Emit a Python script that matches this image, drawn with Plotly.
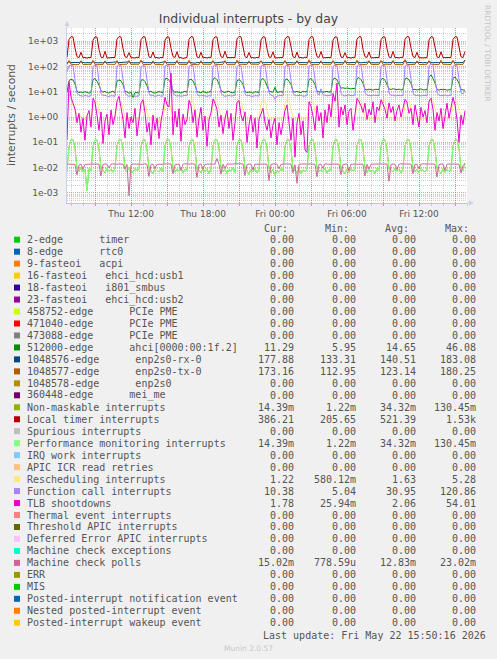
import plotly.graph_objects as go
import pandas as pd

# ---------------- data (10-minute steps) ----------------
start_time = "2026-05-21 06:40"
end_time = "2026-05-22 16:00"
n_points = 200

local_timer = [
    225,
    1150, 1480, 1450, 520, 240, 222, 360, 218, 225, 212, 228, 221,
    1080, 1460, 1430, 470, 232, 219, 390, 214, 222, 216, 224, 226,
    1200, 1500, 1440, 500, 238, 225, 350, 220, 218, 214, 230, 222,
    1120, 1470, 1460, 480, 236, 221, 370, 216, 224, 211, 226, 219,
    1090, 1450, 1420, 510, 242, 224, 380, 219, 221, 205.65, 223, 225,
    1170, 1490, 1450, 490, 235, 218, 360, 215, 226, 213, 229, 220,
    1130, 1460, 1440, 470, 239, 223, 395, 221, 219, 217, 225, 223,
    1210, 1530, 1470, 520, 241, 220, 355, 217, 223, 212, 227, 221,
    1100, 1470, 1430, 500, 234, 226, 375, 214, 220, 216, 224, 227,
    1160, 1480, 1460, 480, 237, 219, 365, 218, 225, 213, 230, 222,
    1140, 1500, 1450, 510, 240, 224, 385, 216, 221, 215, 226, 220,
    1080, 1460, 1420, 490, 233, 221, 350, 220, 224, 211, 228, 224,
    1190, 1490, 1470, 470, 238, 225, 370, 215, 222, 217, 225, 221,
    1120, 1470, 1440, 500, 236, 218, 390, 219, 226, 214, 229, 223,
    1170, 1510, 1460, 520, 242, 223, 360, 217, 220, 216, 224, 219,
    1100, 1480, 1430, 480, 235, 220, 375, 221, 223, 212, 227, 225,
    1150, 1490, 1450, 500, 239, 222, 386.21,
]

enp2s0_rx = [
    140,
    152, 141, 139, 138, 140, 142, 149, 139, 137, 141, 140, 138,
    155, 140, 138, 141, 139, 137, 147, 140, 142, 138, 139, 141,
    150, 139, 141, 137, 140, 139, 151, 138, 140, 142, 137, 139,
    158, 142, 138, 140, 141, 138, 146, 141, 139, 137, 140, 142,
    153, 140, 137, 139, 138, 141, 150, 139, 141, 140, 138, 137,
    149, 141, 140, 133.31, 142, 139, 148, 137, 140, 141, 139, 140,
    156, 139, 138, 141, 137, 140, 152, 140, 138, 139, 142, 138,
    151, 142, 141, 139, 140, 138, 147, 141, 137, 140, 139, 141,
    160, 140, 139, 137, 141, 142, 149, 138, 140, 138, 141, 139,
    154, 138, 140, 142, 139, 137, 150, 140, 141, 139, 138, 140,
    152, 141, 139, 140, 138, 141, 146, 139, 142, 140, 137, 139,
    157, 139, 141, 138, 140, 139, 151, 141, 138, 141, 140, 142,
    150, 140, 138, 141, 142, 140, 148, 138, 140, 137, 141, 139,
    155, 142, 140, 139, 137, 141, 153, 140, 139, 142, 138, 140,
    183.08, 139, 141, 140, 139, 138, 147, 141, 140, 138, 142, 137,
    151, 140, 138, 142, 141, 139, 150, 139, 141, 140, 139, 141,
    156, 141, 139, 140, 138, 142, 177.88,
]

enp2s0_tx = [
    118,
    172, 121, 117, 119, 116, 120, 168, 118, 115, 119, 121, 117,
    175, 119, 116, 120, 118, 117, 165, 121, 118, 116, 120, 119,
    170, 118, 121, 117, 119, 122, 171, 117, 120, 118, 116, 121,
    177, 120, 118, 116, 121, 119, 166, 119, 117, 121, 118, 112.95,
    169, 117, 120, 119, 117, 118, 173, 120, 119, 117, 121, 118,
    174, 121, 119, 118, 120, 116, 167, 118, 121, 119, 117, 120,
    171, 118, 117, 121, 119, 120, 170, 117, 118, 120, 119, 117,
    176, 120, 121, 117, 118, 119, 164, 121, 119, 116, 120, 121,
    168, 119, 118, 120, 121, 117, 172, 119, 117, 121, 118, 119,
    173, 117, 120, 118, 116, 121, 169, 120, 118, 119, 121, 117,
    180.25, 121, 117, 119, 120, 118, 166, 117, 121, 118, 116, 120,
    170, 118, 119, 121, 117, 120, 174, 119, 120, 117, 119, 118,
    175, 120, 116, 118, 119, 121, 168, 121, 118, 120, 117, 119,
    172, 119, 121, 117, 120, 118, 171, 118, 119, 121, 120, 116,
    178, 117, 118, 120, 121, 119, 165, 120, 117, 118, 119, 121,
    169, 121, 120, 119, 118, 117, 173, 119, 121, 120, 118, 117,
    174, 118, 121, 117, 119, 120, 173.16,
]

ahci = [
    9.5,
    27, 31, 29, 20, 10.5, 9.2, 9.8, 8.9, 10.1, 9.4, 8.7, 9.6,
    30, 33, 26, 18, 11, 9.6, 10.3, 9.1, 8.8, 9.9, 10.4, 9.0,
    26, 29, 27, 19, 10.2, 9.8, 8.6, 9.7, 5.95, 9.3, 9.1, 8.9,
    28, 30, 25, 17, 9.8, 10.4, 9.2, 8.7, 9.5, 10.1, 9.6, 9.2,
    32, 34, 28, 21, 10.8, 9.3, 10.0, 9.4, 8.8, 9.7, 10.3, 9.5,
    29, 31, 27, 18, 10.1, 9.5, 9.0, 10.2, 9.6, 8.9, 9.8, 10.0,
    31, 36, 30, 20, 11.2, 9.7, 9.4, 9.9, 10.5, 9.2, 9.0, 9.6,
    27, 30, 26, 19, 10.4, 9.1, 9.8, 9.3, 8.7, 10.0, 9.5, 9.3,
    30, 33, 27, 18, 10.6, 9.9, 9.5, 15, 9.2, 9.8, 10.1, 9.4,
    29, 32, 26, 19, 10.3, 9.6, 10.2, 9.7, 9.1, 10.5, 9.8, 10.2,
    30, 33, 27, 19, 10.4, 9.7, 10.1, 9.5, 9.9, 10.3, 9.6, 10.0,
    31, 35, 29, 21, 13.8, 14.2, 13.5, 14.0, 13.2, 12.8, 13.6, 12.9,
    33, 36, 30, 21, 12.3, 11.8, 12.6, 12.1, 11.5, 12.4, 11.9, 12.2,
    30, 34, 28, 20, 12.8, 12.2, 13.1, 12.5, 12.0, 12.7, 11.6, 12.3,
    32, 35, 29, 21, 11.9, 12.4, 11.7, 12.2, 12.9, 11.8, 12.3, 12.0,
    37, 46.08, 33, 22, 12.1, 11.6, 12.5, 11.9, 12.3, 11.4, 12.0, 11.7,
    34, 38, 30, 21, 12.2, 11.5, 11.29,
]

function_call = [
    60,
    105, 112, 108, 28, 8.8, 7.2, 6.9, 6.6, 7.1, 6.8, 6.5, 7.0,
    98, 110, 104, 25, 8.5, 6.9, 7.3, 6.7, 6.4, 7.0, 6.8, 6.6,
    102, 115, 106, 31, 9.1, 7.0, 6.6, 6.9, 7.2, 6.5, 6.7, 6.8,
    96, 108, 103, 26, 8.7, 6.8, 7.1, 6.5, 6.9, 7.3, 6.6, 6.7,
    104, 113, 109, 29, 9.3, 7.1, 6.7, 7.0, 6.6, 6.8, 7.2, 6.9,
    99, 111, 105, 27, 8.6, 6.7, 6.9, 7.2, 6.8, 6.5, 7.0, 6.6,
    101, 114, 107, 30, 8.9, 7.0, 6.6, 6.8, 7.1, 6.7, 6.9, 7.1,
    97, 109, 104, 26, 8.4, 6.8, 7.2, 6.6, 6.5, 7.0, 6.8, 6.7,
    103, 112, 108, 28, 9.0, 7.1, 6.9, 5.04, 6.7, 6.9, 7.1, 6.8,
    100, 110, 106, 27, 8.8, 6.9, 7.0, 6.7, 7.2, 6.6, 6.8, 7.0,
    102, 113, 107, 29, 9.2, 7.3, 13, 7.6, 7.0, 6.8, 7.2, 7.1,
    98, 111, 105, 27, 8.7, 7.0, 6.8, 7.2, 7.5, 6.9, 7.1, 7.4,
    104, 116, 109, 30, 9.4, 7.2, 7.0, 6.9, 7.3, 7.1, 6.8, 7.0,
    99, 110, 106, 28, 8.9, 7.1, 7.4, 6.8, 7.0, 7.2, 6.9, 7.1,
    101, 114, 108, 29, 9.1, 6.9, 7.1, 7.3, 6.8, 7.0, 7.2, 6.9,
    105, 120.86, 110, 31, 9.5, 7.2, 6.9, 7.1, 7.4, 6.8, 7.0, 7.3,
    100, 112, 106, 28, 9.0, 8.2, 10.38,
]

tlb_shootdowns = [
    0.12,
    25, 6.0, 3.2, 2.1, 0.6, 1.4, 0.25, 0.9, 0.12, 1.1, 1.8, 0.4,
    5.5, 3.8, 1.2, 0.3, 1.6, 0.09, 0.7, 1.3, 0.2, 1.9, 0.5, 1.1,
    4.2, 6.5, 2.4, 0.8, 0.15, 1.5, 0.35, 1.0, 0.6, 2.2, 0.18, 0.9,
    3.6, 4.8, 1.5, 0.25, 0.6, 0.08, 1.2, 0.3, 0.9, 0.14, 0.7, 1.8,
    6.0, 3.0, 2.5, 54.01, 0.2, 1.7, 0.4, 2.1, 0.11, 1.3, 0.5, 0.8,
    4.5, 2.8, 0.6, 1.9, 0.16, 0.9, 2.4, 0.3, 1.1, 0.07, 0.8, 1.5,
    5.2, 3.5, 2.0, 0.4, 1.2, 0.22, 0.9, 1.8, 0.35, 1.4, 0.12, 0.6,
    3.8, 4.5, 1.2, 0.7, 1.6, 0.1, 0.5, 1.2, 0.25, 0.9, 0.06, 0.8,
    1.5, 2.2, 0.6, 0.3, 0.8, 0.15, 0.5, 0.9, 0.08, 0.6, 0.2, 0.7,
    1.8, 3.0, 0.5, 0.12, 0.9, 0.026, 0.6, 1.4, 0.2, 0.7, 0.05, 0.04,
    4.0, 2.6, 1.1, 0.3, 2.8, 0.7, 1.5, 0.15, 1.9, 0.6, 3.2, 1.0,
    8.5, 4.2, 22, 0.4, 2.5, 1.2, 3.0, 0.5, 1.7, 2.2, 0.3, 1.4,
    5.5, 4.0, 2.8, 1.5, 3.5, 0.8, 2.0, 1.2, 4.0, 0.6, 2.5, 1.8,
    4.8, 3.2, 2.0, 0.9, 3.6, 1.5, 2.6, 0.7, 1.8, 3.0, 1.0, 2.2,
    5.0, 3.8, 1.4, 2.2, 0.5, 3.0, 1.2, 0.4, 2.4, 1.0, 1.8, 0.6,
    4.2, 5.5, 2.0, 0.3, 1.5, 0.7, 2.2, 0.35, 1.1, 3.5, 0.9, 2.0,
    6.0, 3.0, 0.8, 0.1, 1.2, 0.5, 1.78,
]

rescheduling = [
    1.8,
    2.5, 3.4, 3.0, 1.9, 1.2, 0.95, 1.1, 0.9, 0.85, 1.0, 0.92, 0.88,
    3.1, 4.3, 4.0, 1.6, 0.95, 0.9, 0.88, 0.93, 0.9, 0.86, 0.91, 0.89,
    3.3, 4.5, 4.2, 1.7, 0.96, 0.91, 0.87, 0.9, 0.92, 0.88, 0.9, 0.93,
    3.0, 4.1, 3.9, 1.5, 0.93, 0.89, 0.9, 0.86, 0.91, 0.5801, 0.88, 0.9,
    2.9, 4.4, 4.1, 1.8, 0.97, 0.9, 0.88, 0.92, 0.9, 0.87, 0.91, 0.89,
    3.2, 4.6, 4.3, 1.6, 0.94, 0.92, 0.89, 0.9, 0.88, 0.91, 0.9, 0.86,
    3.4, 4.8, 4.5, 1.9, 0.98, 0.9, 0.91, 0.88, 0.9, 0.93, 0.87, 0.9,
    3.1, 4.4, 4.2, 1.7, 0.95, 0.89, 0.9, 0.92, 0.86, 0.9, 0.91, 0.88,
    3.3, 4.7, 4.4, 1.8, 0.96, 0.91, 0.88, 0.9, 0.92, 0.89, 0.9, 0.91,
    3.5, 5.0, 4.6, 1.9, 0.97, 0.9, 0.92, 0.88, 0.91, 0.9, 0.87, 0.92,
    3.2, 4.5, 4.3, 1.7, 0.95, 0.92, 0.9, 0.91, 0.89, 0.93, 0.9, 0.88,
    3.6, 5.28, 4.8, 2.0, 0.98, 0.91, 0.9, 0.92, 0.88, 0.9, 0.91, 0.93,
    3.3, 4.6, 4.4, 1.8, 0.96, 0.9, 0.93, 0.89, 0.91, 0.9, 0.92, 0.88,
    3.4, 4.9, 4.5, 1.9, 0.97, 0.92, 0.9, 0.91, 0.89, 0.93, 0.9, 0.91,
    3.1, 4.4, 4.2, 1.7, 0.95, 0.9, 0.91, 0.88, 0.92, 0.9, 0.89, 0.92,
    3.5, 4.8, 4.6, 1.9, 0.98, 0.91, 0.93, 0.9, 0.88, 0.91, 0.92, 0.9,
    3.2, 4.5, 4.3, 1.8, 1.0, 0.95, 1.22,
]

perf_monitoring = [
    0.008,
    0.07, 0.125, 0.128, 0.06, 0.009, 0.0072, 0.0105, 0.0068, 0.0085, 0.00122, 0.009, 0.0075,
    0.065, 0.12, 0.124, 0.055, 0.0095, 0.0078, 0.0062, 0.0098, 0.0071, 0.0088, 0.0066, 0.0092,
    0.072, 0.126, 0.13, 0.058, 0.0088, 0.0069, 0.0101, 0.0075, 0.0064, 0.0093, 0.0079, 0.0085,
    0.068, 0.123, 0.127, 0.052, 0.0092, 0.0074, 0.0058, 0.0097, 0.0083, 0.0067, 0.0095, 0.0071,
    0.074, 0.128, 0.13045, 0.061, 0.0098, 0.0066, 0.0089, 0.0072, 0.0103, 0.0061, 0.0086, 0.0079,
    0.066, 0.121, 0.125, 0.054, 0.0087, 0.0081, 0.0063, 0.0094, 0.0069, 0.0091, 0.0057, 0.0088,
    0.071, 0.127, 0.129, 0.059, 0.0096, 0.0068, 0.0092, 0.0059, 0.0084, 0.0073, 0.0099, 0.0065,
    0.069, 0.122, 0.126, 0.056, 0.0089, 0.0077, 0.0054, 0.0086, 0.0068, 0.0095, 0.0062, 0.0081,
    0.073, 0.126, 0.128, 0.06, 0.0093, 0.0063, 0.0087, 0.0049, 0.0078, 0.0066, 0.0091, 0.0072,
    0.067, 0.124, 0.127, 0.055, 0.0085, 0.0079, 0.0061, 0.0093, 0.0056, 0.0082, 0.0069, 0.0088,
    0.07, 0.125, 0.129, 0.057, 0.0094, 0.0067, 0.0083, 0.0071, 0.0097, 0.006, 0.0085, 0.0074,
    0.068, 0.123, 0.126, 0.053, 0.009, 0.0073, 0.0058, 0.0088, 0.0065, 0.0092, 0.0076, 0.0083,
    0.072, 0.127, 0.13, 0.06, 0.0097, 0.0064, 0.009, 0.0069, 0.0081, 0.0057, 0.0094, 0.0078,
    0.066, 0.122, 0.125, 0.054, 0.0088, 0.0082, 0.0067, 0.0095, 0.0072, 0.0087, 0.0061, 0.0091,
    0.071, 0.126, 0.128, 0.058, 0.0095, 0.007, 0.0086, 0.0063, 0.0099, 0.0075, 0.0068, 0.0084,
    0.069, 0.124, 0.127, 0.056, 0.0091, 0.0076, 0.0059, 0.0092, 0.0066, 0.0089, 0.0073, 0.0082,
    0.07, 0.125, 0.128, 0.057, 0.0093, 0.0079, 0.01439,
]
non_maskable = perf_monitoring  # identical readings in the legend

machine_check_polls = [
    0.0138,
    0.0139, 0.0137, 0.0141, 0.0136, 0.0052, 0.0128, 0.0139, 0.0085, 0.0135, 0.014, 0.0137, 0.0138,
    0.014, 0.0138, 0.0136, 0.0139, 0.0047, 0.0131, 0.0142, 0.0137, 0.0098, 0.0138, 0.0141, 0.0136,
    0.0137, 0.0139, 0.0141, 0.0138, 0.0088, 0.0135, 0.00078, 0.0132, 0.0139, 0.0137, 0.014, 0.0138,
    0.0139, 0.0136, 0.0142, 0.0137, 0.0045, 0.0134, 0.0138, 0.0092, 0.0137, 0.0141, 0.0136, 0.0139,
    0.0141, 0.0138, 0.0137, 0.014, 0.0058, 0.0129, 0.0136, 0.0139, 0.0078, 0.0138, 0.0142, 0.0137,
    0.0138, 0.014, 0.0136, 0.0139, 0.0041, 0.0133, 0.0141, 0.0087, 0.0136, 0.0139, 0.0137, 0.014,
    0.0137, 0.0139, 0.0230, 0.0136, 0.0055, 0.0137, 0.0095, 0.0138, 0.014, 0.0136, 0.0139, 0.0141,
    0.014, 0.0137, 0.0138, 0.0141, 0.0049, 0.013, 0.0139, 0.0136, 0.0082, 0.0139, 0.0137, 0.0138,
    0.0139, 0.0141, 0.0136, 0.0138, 0.0031, 0.0134, 0.014, 0.0137, 0.0138, 0.0091, 0.0136, 0.0139,
    0.0137, 0.0138, 0.014, 0.0139, 0.0062, 0.0132, 0.0024, 0.0136, 0.0139, 0.0141, 0.0137, 0.0138,
    0.0141, 0.0139, 0.0137, 0.0136, 0.0044, 0.0135, 0.0138, 0.0093, 0.0141, 0.0137, 0.0139, 0.0136,
    0.0138, 0.014, 0.0139, 0.0137, 0.0053, 0.0131, 0.0137, 0.014, 0.0076, 0.0138, 0.0136, 0.0141,
    0.0136, 0.0139, 0.0141, 0.0138, 0.0047, 0.0136, 0.0089, 0.0139, 0.0137, 0.014, 0.0138, 0.0137,
    0.014, 0.0137, 0.0138, 0.0141, 0.0029, 0.0133, 0.0139, 0.0136, 0.0084, 0.0137, 0.0141, 0.0139,
    0.0138, 0.0141, 0.0136, 0.0139, 0.0058, 0.0134, 0.0137, 0.0091, 0.014, 0.0138, 0.0136, 0.0139,
    0.0137, 0.0139, 0.014, 0.0137, 0.0043, 0.013, 0.0141, 0.0138, 0.0079, 0.0136, 0.0139, 0.0138,
    0.0139, 0.0138, 0.0141, 0.0137, 0.0061, 0.0118, 0.01502,
]

# legend table
legend_labels = [
    "2-edge      timer", "8-edge      rtc0", "9-fasteoi   acpi",
    "16-fasteoi   ehci_hcd:usb1", "18-fasteoi   i801_smbus", "23-fasteoi   ehci_hcd:usb2",
    "458752-edge      PCIe PME", "471040-edge      PCIe PME", "473088-edge      PCIe PME",
    "512000-edge      ahci[0000:00:1f.2]", "1048576-edge      enp2s0-rx-0",
    "1048577-edge      enp2s0-tx-0", "1048578-edge      enp2s0", "360448-edge      mei_me",
    "Non-maskable interrupts", "Local timer interrupts", "Spurious interrupts",
    "Performance monitoring interrupts", "IRQ work interrupts", "APIC ICR read retries",
    "Rescheduling interrupts", "Function call interrupts", "TLB shootdowns",
    "Thermal event interrupts", "Threshold APIC interrupts", "Deferred Error APIC interrupts",
    "Machine check exceptions", "Machine check polls", "ERR", "MIS",
    "Posted-interrupt notification event", "Nested posted-interrupt event",
    "Posted-interrupt wakeup event",
]
legend_colors = [
    "#00CC00", "#0066B3", "#FF8000", "#FFCC00", "#330099", "#990099", "#CCFF00", "#FF0000",
    "#808080", "#008F00", "#00487D", "#B35A00", "#B38F00", "#6B006B", "#8FB300", "#B30000",
    "#BEBEBE", "#80FF80", "#80C9FF", "#FFC080", "#FFE680", "#AA80FF", "#EE00CC", "#FF8080",
    "#666600", "#FFBFFF", "#00FFCC", "#CC6699", "#999900", "#00CC00", "#0066B3", "#FF8000",
    "#FFCC00",
]
Z = "0.00"
cur_vals = [Z]*9 + ["11.29", "177.88", "173.16", Z, Z, "14.39m", "386.21", Z, "14.39m", Z, Z,
                    "1.22", "10.38", "1.78", Z, Z, Z, Z, "15.02m", Z, Z, Z, Z, Z]
min_vals = [Z]*9 + ["5.95", "133.31", "112.95", Z, Z, "1.22m", "205.65", Z, "1.22m", Z, Z,
                    "580.12m", "5.04", "25.94m", Z, Z, Z, Z, "778.59u", Z, Z, Z, Z, Z]
avg_vals = [Z]*9 + ["14.65", "140.51", "123.14", Z, Z, "34.32m", "521.39", Z, "34.32m", Z, Z,
                    "1.63", "30.95", "2.06", Z, Z, Z, Z, "12.83m", Z, Z, Z, Z, Z]
max_vals = [Z]*9 + ["46.08", "183.08", "180.25", Z, Z, "130.45m", "1.53k", Z, "130.45m", Z, Z,
                    "5.28", "120.86", "54.01", Z, Z, Z, Z, "23.02m", Z, Z, Z, Z, Z]
col_headers = ["Cur:", "Min:", "Avg:", "Max:"]

y_tick_vals = [1e-3, 1e-2, 1e-1, 1e0, 1e1, 1e2, 1e3]
y_tick_text = ["1e-03", "1e-02", "1e-01", "1e+00", "1e+01", "1e+02", "1e+03"]
x_tick_vals = ["2026-05-21 09:00", "2026-05-21 12:00", "2026-05-21 15:00", "2026-05-21 18:00",
               "2026-05-21 21:00", "2026-05-22 00:00", "2026-05-22 03:00", "2026-05-22 06:00",
               "2026-05-22 09:00", "2026-05-22 12:00", "2026-05-22 15:00"]
x_tick_text = ["", "Thu 12:00", "", "Thu 18:00", "", "Fri 00:00", "", "Fri 06:00", "",
               "Fri 12:00", ""]

# series drawn in rrdtool order (later on top)
plotted = [
    ("512000-edge ahci", ahci, "#008F00"),
    ("enp2s0-rx-0", enp2s0_rx, "#00487D"),
    ("enp2s0-tx-0", enp2s0_tx, "#B35A00"),
    ("Non-maskable interrupts", non_maskable, "#8FB300"),
    ("Local timer interrupts", local_timer, "#B30000"),
    ("Performance monitoring interrupts", perf_monitoring, "#80FF80"),
    ("Rescheduling interrupts", rescheduling, "#FFE680"),
    ("Function call interrupts", function_call, "#AA80FF"),
    ("TLB shootdowns", tlb_shootdowns, "#EE00CC"),
    ("Machine check polls", machine_check_polls, "#CC6699"),
]
for name, vals, _ in plotted:
    assert len(vals) == n_points, (name, len(vals))

# ---------------- figure ----------------
W, H = 497, 659
L, R, T, B = 67, 467, 28, 203


def px2x(px):
    return (px - L) / (R - L)


def px2y(py):
    return (B - py) / (B - T)


times = pd.date_range(start_time, periods=n_points, freq="10min")

fig = go.Figure()
for name, vals, color in plotted:
    fig.add_trace(go.Scatter(x=times, y=vals, mode="lines", name=name,
                             line=dict(color=color, width=1), showlegend=False,
                             hoverinfo="skip"))

MAJ = "rgba(235,90,90,0.6)"
MIN = "rgba(150,150,150,0.45)"
minor_y = [m * 10 ** e for e in range(-4, 4) for m in range(2, 10)]

fig.update_layout(
    width=W, height=H, autosize=False,
    margin=dict(l=L, r=W - R, t=T, b=H - B, pad=0),
    paper_bgcolor="#F0F0F0", plot_bgcolor="#FFFFFF",
    title=dict(text="Individual interrupts - by day", x=0.5, xanchor="center",
               xref="container", y=1 - 19 / H, yref="container", yanchor="middle",
               font=dict(family="DejaVu Sans", size=12.4, color="#444")),
    xaxis=dict(type="date", range=[start_time, end_time], tickmode="array",
               tickvals=x_tick_vals, ticktext=x_tick_text, showgrid=True,
               gridcolor=MAJ, griddash="1px,1px", gridwidth=1,
               ticks="outside", ticklen=2, tickcolor=MAJ,
               tickfont=dict(family="DejaVu Sans", size=9, color="#555"),
               showline=True, linecolor="#D6C596", linewidth=1, zeroline=False,
               minor=dict(tickmode="linear", tick0="2026-05-21 00:00", dtick=3600000,
                          showgrid=True, gridcolor=MIN, griddash="1px,1px",
                          ticks="outside", ticklen=2, tickcolor="#C8C8C8")),
    yaxis=dict(type="log", range=[-3.395, 3.514], tickmode="array",
               tickvals=y_tick_vals, ticktext=y_tick_text, showgrid=True,
               gridcolor=MAJ, griddash="1px,1px", gridwidth=1,
               ticks="", tickfont=dict(family="DejaVu Sans", size=9, color="#555"),
               ticklabelstandoff=6,
               showline=True, linecolor="#C9D2EA", linewidth=1, zeroline=False,
               minor=dict(tickmode="array", tickvals=minor_y, showgrid=True,
                          gridcolor=MIN, griddash="1px,1px")),
)

ann = []
shapes = []
MONO = "DejaVu Sans Mono"
TXT = "#555"

# axis arrows
ann.append(dict(x=px2x(474), y=0, xref="paper", yref="paper", ax=-9, ay=0,
                showarrow=True, arrowhead=2, arrowsize=1, arrowwidth=1,
                arrowcolor="#C9D2EA", text=""))
ann.append(dict(x=0, y=px2y(21), xref="paper", yref="paper", ax=0, ay=9,
                showarrow=True, arrowhead=2, arrowsize=1, arrowwidth=1,
                arrowcolor="#C9D2EA", text=""))

# axis title and side texts
ann.append(dict(x=px2x(11), y=px2y(115), xref="paper", yref="paper", text="interrupts / second",
                textangle=-90, showarrow=False, xanchor="center", yanchor="middle",
                font=dict(family="DejaVu Sans", size=10.8, color="#555")))
ann.append(dict(x=px2x(488), y=px2y(53), xref="paper", yref="paper",
                text="RRDTOOL / TOBI OETIKER", textangle=90, showarrow=False,
                xanchor="center", yanchor="middle",
                font=dict(family="DejaVu Sans", size=7.5, color="#C4C4C4")))
ann.append(dict(x=px2x(248), y=px2y(648), xref="paper", yref="paper", text="Munin 2.0.57",
                showarrow=False, xanchor="center", yanchor="middle",
                font=dict(family="DejaVu Sans", size=7.5, color="#C8C8C8")))

# legend table
head_right = [289, 350, 410, 470]
val_right = [295, 357, 417, 477]
for h, xr in zip(col_headers, head_right):
    ann.append(dict(x=px2x(xr), y=px2y(228), xref="paper", yref="paper", text=h,
                    showarrow=False, xanchor="right", yanchor="middle", borderpad=0,
                    font=dict(family=MONO, size=10, color=TXT)))

row0, dy = 239.7, 11.97
for i, label in enumerate(legend_labels):
    yc = row0 + dy * i
    shapes.append(dict(type="rect", xref="paper", yref="paper",
                       x0=px2x(14), x1=px2x(20), y0=px2y(yc + 3), y1=px2y(yc - 3),
                       fillcolor=legend_colors[i], line=dict(width=0)))
    ann.append(dict(x=px2x(26), y=px2y(yc), xref="paper", yref="paper",
                    text=label.replace(" ", "\u00a0"), showarrow=False,
                    xanchor="left", yanchor="middle", borderpad=0,
                    font=dict(family=MONO, size=10, color=TXT)))
    for vals, xr in zip([cur_vals, min_vals, avg_vals, max_vals], val_right):
        ann.append(dict(x=px2x(xr), y=px2y(yc), xref="paper", yref="paper",
                        text=vals[i], showarrow=False, xanchor="right",
                        yanchor="middle", borderpad=0,
                        font=dict(family=MONO, size=10, color=TXT)))

ann.append(dict(x=px2x(262), y=px2y(635), xref="paper", yref="paper",
                text="Last update: Fri May 22 15:50:16 2026".replace(" ", "\u00a0"),
                showarrow=False, xanchor="left", yanchor="middle", borderpad=0,
                font=dict(family=MONO, size=10, color=TXT)))

fig.update_layout(annotations=ann, shapes=shapes)
fig.write_html(
    "out.html",
    config={"displayModeBar": False},
    post_script="document.body.style.margin='0';document.body.style.padding='0';"
                "document.body.style.background='#F0F0F0';",
)
